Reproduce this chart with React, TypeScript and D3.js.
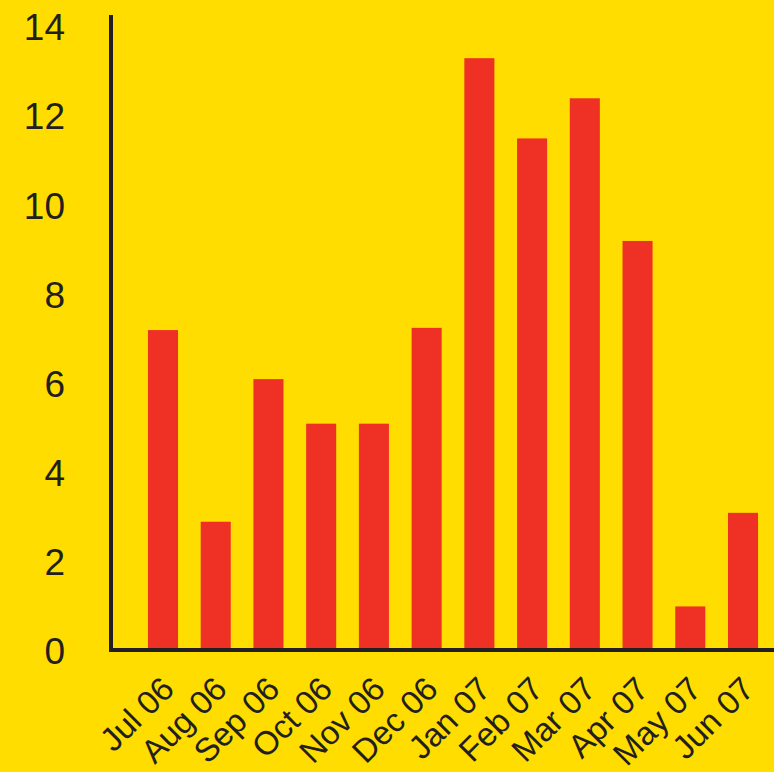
import React from "react";
import * as d3 from "d3";

const categories = ["Jul 06", "Aug 06", "Sep 06", "Oct 06", "Nov 06", "Dec 06", "Jan 07", "Feb 07", "Mar 07", "Apr 07", "May 07", "Jun 07"];
const values = [7.2, 2.9, 6.1, 5.1, 5.1, 7.25, 13.3, 11.5, 12.4, 9.2, 1.0, 3.1];
const yTicks = [0, 2, 4, 6, 8, 10, 12, 14];

const W = 774;
const H = 772;
const BG = "#FFDD00";
const BAR = "#EE3124";
const INK = "#231F20";
const FONT = "'Liberation Sans', Arial, Helvetica, sans-serif";

export default function App() {
  const y = d3.scaleLinear().domain([0, 14]).range([651, 27]);
  const x = d3
    .scaleBand<string>()
    .domain(categories)
    .range([121.6, 784.4])
    .paddingInner(0.43)
    .paddingOuter(0.5);
  const axisX = 111;
  const axisY = 650;
  return (
    <div style={{ position: "absolute", left: 0, top: 0 }}>
      <svg width={W} height={H} style={{ display: "block" }}>
        <rect x={0} y={0} width={W} height={H} fill={BG} />
        {categories.map((c, i) => (
          <rect
            key={c}
            x={x(c)!}
            y={y(values[i])}
            width={x.bandwidth()}
            height={y(0) - y(values[i])}
            fill={BAR}
          />
        ))}
        <line x1={axisX} x2={axisX} y1={15} y2={axisY + 2} stroke={INK} strokeWidth={4} />
        <line x1={axisX - 2} x2={W} y1={axisY} y2={axisY} stroke={INK} strokeWidth={4} />
        {yTicks.map((t) => (
          <text
            key={t}
            x={65}
            y={y(t)}
            dy="0.36em"
            textAnchor="end"
            fontFamily={FONT}
            fontSize={37}
            fill={INK}
          >
            {t}
          </text>
        ))}
        {categories.map((c) => {
          const cx = x(c)! + x.bandwidth() / 2 + 13;
          const cy = 691;
          return (
            <text
              key={c}
              transform={`translate(${cx},${cy}) rotate(-45)`}
              textAnchor="end"
              fontFamily={FONT}
              fontSize={33}
              fill={INK}
            >
              {c}
            </text>
          );
        })}
      </svg>
    </div>
  );
}
